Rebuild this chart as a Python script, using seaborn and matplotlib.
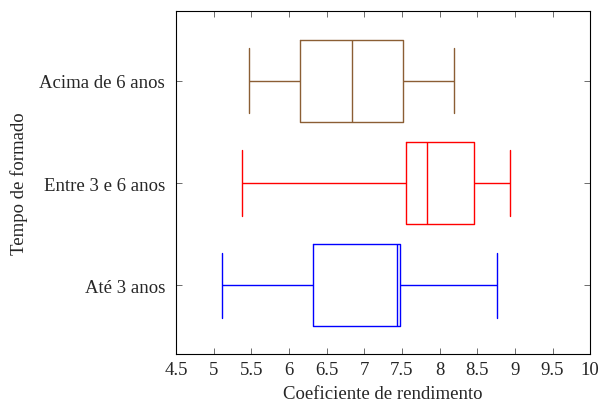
import numpy as np
import pandas as pd
import matplotlib
matplotlib.use("Agg")
import matplotlib.pyplot as plt
import seaborn as sns

# Five-number summaries (min, q1, median, q3, max)
groups = ["Acima de 6 anos", "Entre 3 e 6 anos", "Até 3 anos"]
acima_6 = [5.47, 6.15, 6.83, 7.51, 8.19]
entre_3_6 = [5.37, 7.55, 7.83, 8.46, 8.94]
ate_3 = [5.11, 6.32, 7.43, 7.48, 8.76]
colors = ["#8B5E34", "#FF0000", "#0000FF"]
x_ticks = [4.5, 5, 5.5, 6, 6.5, 7, 7.5, 8, 8.5, 9, 9.5, 10]

df = pd.DataFrame({
    "grupo": np.repeat(groups, 5),
    "valor": acima_6 + entre_3_6 + ate_3,
})

sns.set_style("white")
plt.rcParams["font.family"] = ["Liberation Serif", "DejaVu Serif"]
plt.rcParams["font.size"] = 13.5

fig = plt.figure(figsize=(6.01, 4.02), dpi=100)
ax = fig.add_axes([0.293, 0.117, 0.689, 0.853])

sns.boxplot(data=df, x="valor", y="grupo", order=groups, hue="grupo",
            hue_order=groups, palette=colors, fill=False, whis=(0, 100),
            width=0.8, linewidth=1.0, legend=False, ax=ax, capwidths=0.64)

ax.set_xlim(4.5, 10)
ax.set_ylim(2.67, -0.68)
ax.set_xticks(x_ticks)
ax.set_xticklabels([f"{t:g}" for t in x_ticks])
ax.set_xlabel("Coeficiente de rendimento", labelpad=5)
ax.set_ylabel("Tempo de formado", labelpad=8)

for s in ax.spines.values():
    s.set_visible(True)
    s.set_color("black")
    s.set_linewidth(0.8)
ax.tick_params(direction="in", length=4, width=0.6, color="#555555",
               top=True, right=True, bottom=True, left=True, pad=5)
ax.tick_params(axis="y", pad=8)

fig.savefig("out.png", dpi=100)
